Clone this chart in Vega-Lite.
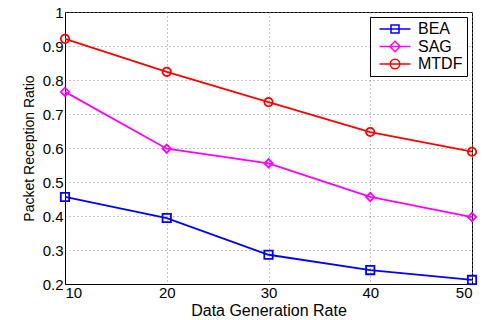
{
  "$schema": "https://vega.github.io/schema/vega-lite/v6.json",
  "width": 407,
  "height": 272,
  "autosize": "none",
  "padding": {"left": 65, "top": 12, "right": 14, "bottom": 36},
  "background": "white",
  "config": {
    "font": "Liberation Sans",
    "view": {"stroke": "black", "strokeWidth": 1},
    "axis": {
      "domainColor": "black",
      "tickColor": "black",
      "labelColor": "black",
      "titleColor": "black",
      "labelFont": "Liberation Sans",
      "titleFont": "Liberation Sans",
      "titleFontWeight": "normal",
      "labelFontSize": 15,
      "titleFontSize": 14,
      "grid": true,
      "gridColor": "#8a8a8a",
      "gridDash": [1, 3],
      "gridWidth": 1,
      "tickSize": 5
    },
    "legend": {
      "title": null,
      "orient": "top-right",
      "offset": 5,
      "fillColor": "white",
      "strokeColor": "black",
      "padding": 4,
      "labelFont": "Liberation Sans",
      "labelFontSize": 16,
      "labelColor": "black",
      "labelOffset": 15,
      "symbolOffset": 13,
      "symbolSize": 100,
      "symbolOpacity": 1,
      "symbolStrokeWidth": 1.5,
      "rowPadding": 0.5
    }
  },
  "data": {
    "values": [
      {"rate": 10, "ratio": 0.456, "method": "BEA"},
      {"rate": 20, "ratio": 0.394, "method": "BEA"},
      {"rate": 30, "ratio": 0.286, "method": "BEA"},
      {"rate": 40, "ratio": 0.241, "method": "BEA"},
      {"rate": 50, "ratio": 0.212, "method": "BEA"},
      {"rate": 10, "ratio": 0.765, "method": "SAG"},
      {"rate": 20, "ratio": 0.598, "method": "SAG"},
      {"rate": 30, "ratio": 0.555, "method": "SAG"},
      {"rate": 40, "ratio": 0.456, "method": "SAG"},
      {"rate": 50, "ratio": 0.397, "method": "SAG"},
      {"rate": 10, "ratio": 0.921, "method": "MTDF"},
      {"rate": 20, "ratio": 0.824, "method": "MTDF"},
      {"rate": 30, "ratio": 0.735, "method": "MTDF"},
      {"rate": 40, "ratio": 0.647, "method": "MTDF"},
      {"rate": 50, "ratio": 0.589, "method": "MTDF"}
    ]
  },
  "transform": [{"calculate": "datum.method", "as": "marker"}],
  "encoding": {
    "x": {
      "field": "rate",
      "type": "quantitative",
      "scale": {"domain": [10, 50], "nice": false, "zero": false},
      "axis": {"values": [10, 20, 30, 40, 50], "title": "Data Generation Rate", "titleFontSize": 16, "labelPadding": 1, "titlePadding": 2, "tickSize": 0}
    },
    "y": {
      "field": "ratio",
      "type": "quantitative",
      "scale": {"domain": [0.2, 1], "nice": false, "zero": false},
      "axis": {"values": [0.2, 0.3, 0.4, 0.5, 0.6, 0.7, 0.8, 0.9, 1], "format": ".1~f", "title": "Packet Reception Ratio", "labelPadding": 2, "titlePadding": 6, "tickSize": 0}
    }
  },
  "layer": [
    {
      "mark": {"type": "line", "strokeWidth": 1.8},
      "encoding": {
        "color": {"field": "method", "type": "nominal", "scale": {"domain": ["BEA", "SAG", "MTDF"], "range": ["#0000FF", "#FF00FF", "#FF0000"]}, "legend": null}
      }
    },
    {
      "mark": {"type": "point", "filled": false, "strokeWidth": 1.8, "size": 70, "opacity": 1},
      "encoding": {
        "color": {"field": "method", "type": "nominal", "legend": null},
        "shape": {"field": "marker", "type": "nominal", "scale": {"domain": ["BEA", "SAG", "MTDF"], "range": ["square", "diamond", "circle"]}, "legend": null}
      }
    },
    {
      "mark": {"type": "point", "filled": false, "strokeWidth": 1.5, "opacity": 0},
      "encoding": {
        "color": {"field": "method", "type": "nominal", "legend": {"encode": {"symbols": {"update": {"opacity": {"value": 1}, "fill": {"value": "transparent"}}}}}},
        "shape": {
          "field": "method",
          "type": "nominal",
          "scale": {"domain": ["BEA", "SAG", "MTDF"], "range": ["M-3.1,0H3.1M-0.8,-0.8H0.8V0.8H-0.8Z", "M-3.1,0H3.1M0,-1.05L1.05,0L0,1.05L-1.05,0Z", "M-3.1,0H3.1M-0.95,0A0.95,0.95,0,1,0,0.95,0A0.95,0.95,0,1,0,-0.95,0Z"]},
          "legend": {"encode": {"symbols": {"update": {"opacity": {"value": 1}, "fill": {"value": "transparent"}}}}}
        }
      }
    }
  ],
  "resolve": {"scale": {"shape": "independent"}, "legend": {"shape": "independent", "color": "independent"}}
}
